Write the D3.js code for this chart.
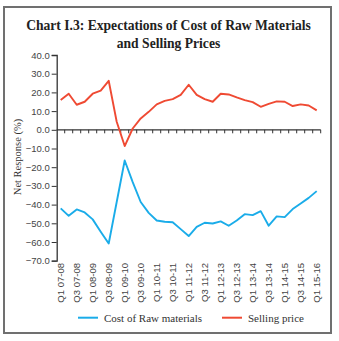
<!DOCTYPE html>
<html><head><meta charset="utf-8">
<script src="https://cdn.jsdelivr.net/npm/d3@7"></script>
<style>body{margin:0;background:#fff}svg{display:block}</style>
</head><body>
<script>
const years = ["07-08","08-09","09-10","10-11","11-12","12-13","13-14","14-15","15-16"];
const categories = [];
years.forEach((y,i)=>{ const qs = i===years.length-1 ? ["Q1"] : ["Q1","Q2","Q3","Q4"]; qs.forEach(q=>categories.push(q+" "+y)); });
const rawMaterials = [-42,-46,-42.6,-44.2,-47.9,-54.5,-60.8,-38.6,-16.4,-28,-38.6,-44.4,-48.5,-49.2,-49.4,-53.1,-56.8,-51.9,-49.7,-50.1,-49,-51.3,-48.5,-45.1,-45.6,-43.5,-51.3,-46.3,-46.7,-42.4,-39.4,-36.4,-32.8];
const sellingPrice = [15.9,19.3,13.4,15,19.3,21,26.2,4.3,-8.7,0.7,6.1,9.6,13.6,15.5,16.4,18.7,24.1,18.7,16.4,15,19.3,18.9,17.3,15.9,14.8,12.3,13.9,15.2,15,12.7,13.6,13,10.4];
const yTicks = [40,30,20,10,0,-10,-20,-30,-40,-50,-60,-70];
const seriesNames = ["Cost of Raw materials","Selling price"];
const colors = ["#1aace9","#ef4a33"];

const W=339,H=341;
const svg=d3.select("body").append("svg").attr("width",W).attr("height",H);
svg.append("rect").attr("x",4).attr("y",7).attr("width",327).attr("height",326)
  .attr("fill","none").attr("stroke","#707070").attr("stroke-width",2);

const serif="'Liberation Serif','DejaVu Serif',serif";
const sans="'Liberation Sans',Arial,sans-serif";
const title=svg.append("text").attr("text-anchor","middle").attr("font-family",serif)
  .attr("font-weight","bold").attr("font-size",13.6).attr("fill","#222");
title.append("tspan").attr("x",168.5).attr("y",30).text("Chart I.3: Expectations of Cost of Raw Materials");
title.append("tspan").attr("x",168.5).attr("y",48).text("and Selling Prices");

const x=d3.scalePoint().domain(categories).range([56.7,320.7]).padding(0.5);
const y=d3.scaleLinear().domain([-70,40]).range([260.7,55]);
const step=x.step();

// y axis
const ya=svg.append("g").attr("transform","translate(56.7,0)")
  .call(d3.axisLeft(y).tickValues(yTicks).tickFormat(d3.format(".1f")).tickSize(5).tickPadding(2));
ya.select(".domain").attr("stroke","#333").attr("stroke-width",1.3);
ya.selectAll(".tick line").attr("stroke","#333");
ya.selectAll("text").attr("font-family",sans).attr("font-size",9.5).attr("fill","#444");

// zero axis with ticks at category boundaries
svg.append("line").attr("x1",56.7).attr("x2",320.7).attr("y1",y(0)).attr("y2",y(0))
  .attr("stroke","#333").attr("stroke-width",1.3);
svg.append("g").selectAll("line").data(categories).join("line")
  .attr("x1",d=>x(d)+step/2).attr("x2",d=>x(d)+step/2)
  .attr("y1",y(0)).attr("y2",y(0)+3.5).attr("stroke","#333").attr("stroke-width",1);

// x labels
svg.append("g").selectAll("text").data(categories.filter((d,i)=>i%2===0)).join("text")
  .attr("transform",d=>`translate(${x(d)+3.3},263) rotate(-90)`)
  .attr("text-anchor","end").attr("font-family",sans).attr("font-size",9.5).attr("fill","#444")
  .text(d=>d);

// y label
svg.append("text").attr("transform","translate(21,157) rotate(-90)").attr("text-anchor","middle")
  .attr("font-family",serif).attr("font-size",10.5).attr("fill","#333").text("Net Response (%)");

const line=d3.line().x((d,i)=>x(categories[i])).y(d=>y(d));
[rawMaterials,sellingPrice].forEach((s,k)=>{
  svg.append("path").attr("d",line(s)).attr("fill","none").attr("stroke",colors[k])
    .attr("stroke-width",1.9).attr("stroke-linejoin","round");
});

// legend
const lx=[78,222];
seriesNames.forEach((n,k)=>{
  svg.append("line").attr("x1",lx[k]).attr("x2",lx[k]+20).attr("y1",317.7).attr("y2",317.7)
    .attr("stroke",colors[k]).attr("stroke-width",2);
  svg.append("text").attr("x",lx[k]+26).attr("y",321.5).attr("font-family",serif)
    .attr("font-size",11).attr("fill","#333").text(n);
});
</script>
</body></html>
